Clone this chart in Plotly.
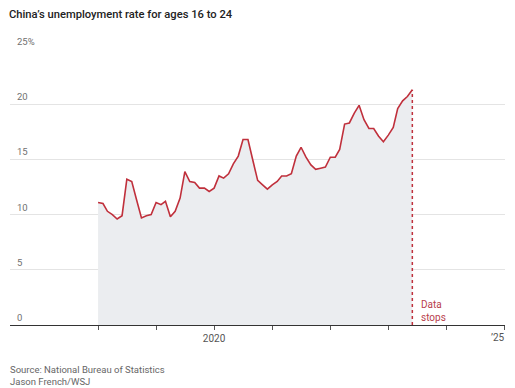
import plotly.graph_objects as go
import pandas as pd

# Monthly youth (16-24) unemployment rate, Jan 2018 - Jun 2023
months = pd.date_range("2018-01-01", "2023-06-01", freq="MS").strftime("%Y-%m-%d").tolist()
rate = [
    11.1, 11.0, 10.3, 10.0, 9.6, 9.9, 13.2, 13.0, 11.3, 9.7, 9.9, 10.0,   # 2018
    11.1, 10.9, 11.2, 9.8, 10.3, 11.5, 13.9, 13.0, 12.9, 12.4, 12.4, 12.1,  # 2019
    12.4, 13.5, 13.3, 13.7, 14.6, 15.3, 16.8, 16.8, 14.9, 13.1, 12.7, 12.3,  # 2020
    12.7, 13.0, 13.5, 13.5, 13.7, 15.3, 16.1, 15.2, 14.5, 14.1, 14.2, 14.3,  # 2021
    15.2, 15.2, 15.9, 18.2, 18.3, 19.2, 19.9, 18.6, 17.8, 17.8, 17.1, 16.6,  # 2022
    17.2, 17.9, 19.6, 20.3, 20.7, 21.3,                                      # 2023
]

x_tick_vals = ["2018-01-01", "2019-01-01", "2020-01-01", "2021-01-01",
               "2022-01-01", "2023-01-01", "2024-01-01", "2025-01-01"]
x_tick_text = ["", "", "2020", "", "", "", "", "\u201925"]
y_tick_vals = [0, 5, 10, 15, 20, 25]
y_tick_text = ["0", "5", "10", "15", "20", "25%"]

title = "China\u2019s unemployment rate for ages 16 to 24"
source_lines = ["Source: National Bureau of Statistics", "Jason French/WSJ"]
stop_label = "Data<br>stops"

LINE = "#c0303c"
FONT = "Roboto"

# page keeps its 8px body margin; figure sized so it fills the 515x388 window
W, H = 507, 380
L, R, T, B = 2, 10, 41, 63
PW, PH = W - L - R, H - T - B

fig = go.Figure()
fig.add_trace(go.Scatter(
    x=months, y=rate, mode="lines",
    line=dict(color=LINE, width=1.6),
    fill="tozeroy", fillcolor="#ebedf0",
    hoverinfo="skip", showlegend=False,
))
fig.add_trace(go.Scatter(
    x=[months[-1], months[-1]], y=[0, rate[-1]], mode="lines",
    line=dict(color=LINE, width=1.5, dash="dot"),
    hoverinfo="skip", showlegend=False,
))

# last tick label drawn as annotation so it stays inside the window
axis_text = [t if i < len(x_tick_text) - 1 else "" for i, t in enumerate(x_tick_text)]

fig.update_layout(
    width=W, height=H,
    margin=dict(l=L, r=R, t=T, b=B),
    paper_bgcolor="white", plot_bgcolor="white",
    font=dict(family=FONT, color="#555555", size=10),
    xaxis=dict(
        type="date",
        range=["2016-06-26", "2025-01-04"],
        tickvals=x_tick_vals, ticktext=axis_text,
        ticks="outside", ticklen=4, tickcolor="#555555", tickwidth=1,
        showgrid=False, showline=True, linecolor="#333333", linewidth=1,
        zeroline=False, tickfont=dict(family=FONT, size=10, color="#555555"),
    ),
    yaxis=dict(
        range=[0, 25], tickvals=y_tick_vals, showticklabels=False,
        showgrid=True, gridcolor="#e4e4e4", gridwidth=1,
        zeroline=False, showline=False, fixedrange=True,
    ),
    showlegend=False,
)

fig.add_annotation(
    x=x_tick_vals[-1], y=0, xref="x", yref="y", text=x_tick_text[-1],
    showarrow=False, xanchor="right", yanchor="top", xshift=2, yshift=-5,
    font=dict(family=FONT, size=10, color="#555555"),
)

for v, t in zip(y_tick_vals, y_tick_text):
    fig.add_annotation(
        x=5 / PW, xref="paper", y=v, yref="y", text=t, showarrow=False,
        xanchor="left", yanchor="bottom", yshift=0,
        font=dict(family=FONT, size=9.5, color="#707070"),
    )

fig.add_annotation(
    x=months[-1], y=0, xref="x", yref="y", text=stop_label, showarrow=False,
    xanchor="left", yanchor="bottom", xshift=7, yshift=0, align="left",
    font=dict(family=FONT, size=10, color="#b8404c"),
)

fig.add_annotation(
    x=-L / PW, y=1 + (T - 6.5) / PH, xref="paper", yref="paper",
    text=title, showarrow=False, borderpad=0,
    xanchor="left", yanchor="middle",
    font=dict(family=FONT, size=11.2, color="#222222", weight=500),
)
fig.add_annotation(
    x=-L / PW, y=-(375 - 8 - (H - B)) / PH, xref="paper", yref="paper",
    text="<br>".join(source_lines), showarrow=False,
    xanchor="left", yanchor="middle", align="left",
    font=dict(family=FONT, size=9.5, color="#666666"),
)

fig.write_html(
    "out.html",
    config={"displayModeBar": False},
    post_script=("document.documentElement.style.overflow='hidden';"
                 "document.body.style.overflow='hidden';"),
)
